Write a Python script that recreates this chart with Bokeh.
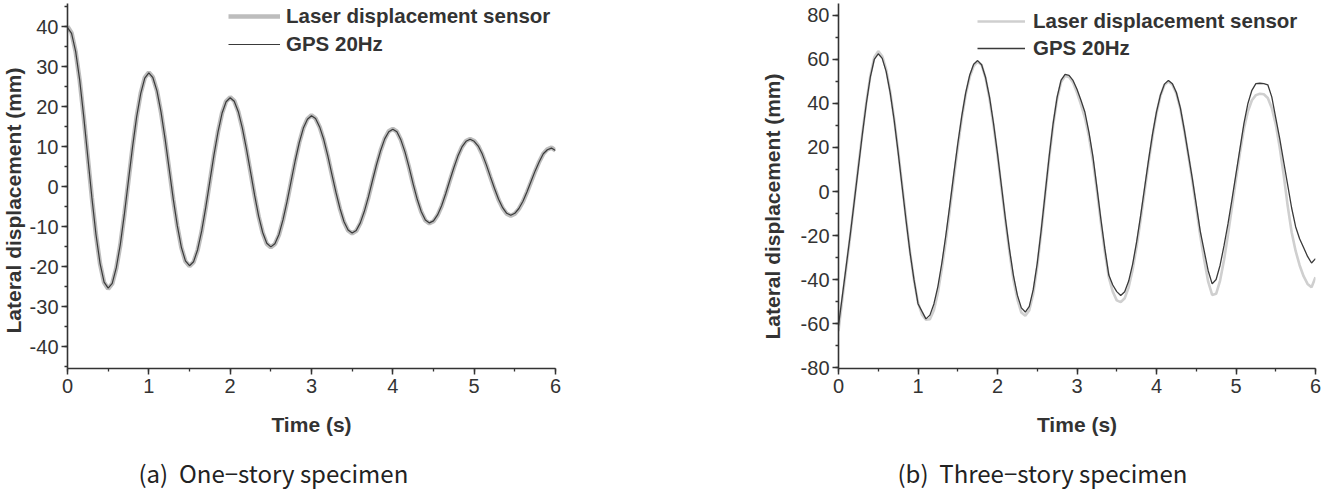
import math
from bokeh.plotting import figure
from bokeh.layouts import row, column
from bokeh.models import (Range1d, SingleIntervalTicker, Label, Legend, LegendItem,
                          PrintfTickFormatter)
from bokeh.embed import file_html
from bokeh.resources import INLINE

# ---------------- data ----------------
# 20 Hz sampling grid (every 0.05 s) from 0 to 6 s
time_s = [round(i * 0.05, 2) for i in range(121)]

# (a) One-story specimen
laser_a = [40.0, 38.4, 33.7, 26.5, 17.3, 7.2, -2.9, -12.1, -19.3, -24.0,
           -25.6, -24.3, -20.4, -14.5, -6.9, 1.5, 9.8, 17.4, 23.3, 27.2,
           28.5, 27.3, 23.9, 18.5, 11.8, 4.3, -3.2, -9.9, -15.3, -18.7,
           -19.9, -18.9, -15.9, -11.2, -5.3, 1.2, 7.7, 13.6, 18.3, 21.3,
           22.3, 21.4, 18.7, 14.6, 9.3, 3.6, -2.2, -7.5, -11.6, -14.3,
           -15.2, -14.4, -12.1, -8.4, -3.8, 1.3, 6.4, 11.0, 14.6, 16.9,
           17.8, 17.0, 14.9, 11.7, 7.6, 3.0, -1.5, -5.6, -8.9, -11.0,
           -11.7, -11.1, -9.2, -6.3, -2.7, 1.4, 5.4, 9.0, 11.9, 13.8,
           14.4, 13.7, 11.6, 8.5, 4.7, 0.5, -3.3, -6.4, -8.5, -9.2,
           -8.7, -7.2, -4.9, -1.9, 1.4, 4.6, 7.6, 9.9, 11.4, 11.9,
           11.4, 10.1, 8.0, 5.3, 2.3, -0.6, -3.3, -5.4, -6.8, -7.3,
           -6.8, -5.6, -3.8, -1.4, 1.2, 3.8, 6.2, 8.2, 9.3, 9.7,
           9.0]
gps_a = [39.7, 38.3, 33.8, 26.6, 17.4, 7.3, -2.8, -12.0, -19.2, -23.9,
         -25.4, -24.2, -20.3, -14.4, -6.8, 1.6, 9.9, 17.4, 23.2, 27.1,
         28.4, 27.2, 23.9, 18.6, 11.9, 4.4, -3.1, -9.8, -15.2, -18.6,
         -19.8, -18.8, -15.8, -11.1, -5.2, 1.3, 7.8, 13.6, 18.3, 21.2,
         22.2, 21.3, 18.7, 14.6, 9.4, 3.7, -2.1, -7.4, -11.5, -14.2,
         -15.1, -14.3, -12.0, -8.3, -3.7, 1.4, 6.5, 11.0, 14.6, 16.8,
         17.7, 17.0, 14.9, 11.8, 7.7, 3.1, -1.4, -5.5, -8.8, -10.9,
         -11.6, -11.0, -9.1, -6.2, -2.6, 1.5, 5.5, 9.0, 11.9, 13.7,
         14.3, 13.7, 11.6, 8.6, 4.8, 0.6, -3.2, -6.3, -8.4, -9.1,
         -8.6, -7.1, -4.8, -1.8, 1.5, 4.7, 7.6, 9.9, 11.3, 11.8,
         11.3, 10.1, 8.1, 5.4, 2.4, -0.5, -3.2, -5.3, -6.7, -7.2,
         -6.7, -5.5, -3.7, -1.3, 1.3, 3.9, 6.2, 8.2, 9.2, 9.6,
         9.0]

# (b) Three-story specimen
laser_b = [-63.5, -48.5, -34.0, -19.5, -4.0, 11.5, 26.5, 40.5, 52.5, 61.0,
           63.8, 61.5, 55.5, 45.5, 33.0, 18.5, 3.0, -12.5, -27.5, -40.5,
           -50.5, -56.0, -58.3, -58.0, -54.0, -46.0, -35.0, -22.5, -8.5, 6.0,
           20.0, 33.0, 44.0, 52.0, 57.0, 59.0, 57.5, 51.5, 42.0, 30.0,
           16.5, 1.5, -13.5, -27.5, -40.0, -49.0, -55.0, -56.5, -54.0, -46.5,
           -34.0, -18.5, -1.5, 15.0, 30.0, 42.0, 49.8, 52.5, 52.0, 49.5,
           45.0, 39.5, 33.5, 25.0, 14.0, 0.5, -14.0, -27.5, -39.0, -45.5,
           -49.5, -50.3, -48.5, -43.5, -35.5, -25.0, -13.0, 0.0, 13.0, 25.0,
           35.5, 43.5, 48.5, 50.0, 48.5, 44.5, 37.5, 27.5, 16.5, 5.0,
           -7.5, -20.0, -31.0, -41.0, -47.0, -46.5, -40.5, -31.0, -19.5, -7.0,
           5.5, 17.5, 28.5, 36.5, 41.5, 43.8, 44.4, 44.2, 42.5, 38.0,
           30.5, 20.0, 7.5, -6.5, -18.5, -27.0, -33.5, -38.5, -42.0, -43.5,
           -39.0]
gps_b = [-61.0, -47.0, -33.0, -19.0, -4.0, 11.0, 26.0, 40.0, 52.0, 60.0,
         62.6, 60.5, 54.5, 44.9, 32.5, 17.9, 2.4, -13.2, -27.8, -40.2,
         -51.0, -54.5, -57.9, -56.2, -51.1, -43.2, -32.5, -20.0, -6.3, 7.9,
         21.6, 34.1, 44.8, 52.8, 57.8, 59.5, 57.6, 51.8, 42.8, 30.9,
         17.2, 2.4, -12.5, -26.2, -38.1, -47.1, -52.9, -54.8, -52.2, -44.5,
         -32.6, -17.5, -0.8, 15.9, 31.0, 42.9, 50.6, 53.2, 52.8, 50.5,
         46.5, 41.5, 36.0, 27.0, 16.0, 2.0, -12.5, -26.0, -38.0, -42.5,
         -45.5, -47.3, -45.6, -40.7, -33.0, -22.9, -11.1, 1.6, 14.3, 26.1,
         36.2, 43.9, 48.8, 50.5, 49.0, 45.0, 38.0, 28.0, 17.0, 6.0,
         -6.0, -18.0, -27.0, -36.0, -42.0, -40.0, -33.5, -24.5, -14.5, -3.5,
         8.0, 19.5, 31.0, 40.0, 46.0, 49.0, 49.2, 49.0, 48.5, 43.0,
         33.5, 24.0, 13.5, 3.0, -7.5, -16.0, -21.5, -25.5, -29.5, -32.5,
         -30.5]

series_names = ["Laser displacement sensor", "GPS 20Hz"]
x_label = "Time (s)"
y_label = "Lateral displacement (mm)"
captions = ["(a)\u00a0 One\u2212story specimen", "(b)\u00a0 Three\u2212story specimen"]

FONT = "Liberation Sans"
CAP_FONT = "Noto Sans CJK KR"
TXT = "#333333"

MAIN_H = 445          # height of the chart row; captions strip below
TOP, BOTTOM = 3, 77   # shared frame borders (frames are aligned in the row)
FRAME_BOTTOM = MAIN_H - BOTTOM   # canvas y of the frames' bottom (368)


def bare(width, height, top=0, bottom=0):
    p = figure(width=width, height=height, x_range=Range1d(0, width),
               y_range=Range1d(0, height - top - bottom), output_backend="svg",
               toolbar_location=None, title=None, x_axis_type=None, y_axis_type=None,
               min_border_left=0, min_border_right=0, min_border_top=top,
               min_border_bottom=bottom)
    p.outline_line_color = None
    p.background_fill_color = "white"
    p.border_fill_color = "white"
    return p


def ylabel_fig(width, cx, cy_canvas):
    p = bare(width, MAIN_H, TOP, BOTTOM)
    p.add_layout(Label(x=cx, y=FRAME_BOTTOM - cy_canvas, text=y_label,
                       angle=math.pi / 2, text_align="center", text_baseline="middle",
                       text_font=FONT, text_font_size="21px", text_font_style="bold",
                       text_color=TXT))
    return p


def make_panel(width, bl, br, yr, yint, laser, gps, laser_style, gps_style,
               leg_loc, glyph_w, standoff, spacing):
    p = figure(width=width, height=MAIN_H, x_range=Range1d(0, 6), y_range=Range1d(*yr),
               output_backend="svg", toolbar_location=None, title=None,
               min_border_left=bl, min_border_right=br, min_border_top=TOP,
               min_border_bottom=BOTTOM)
    p.outline_line_color = None
    p.xgrid.visible = False
    p.ygrid.visible = False
    p.background_fill_color = "white"
    p.border_fill_color = "white"

    xa = p.xaxis[0]
    ya = p.yaxis[0]
    xa.ticker = SingleIntervalTicker(interval=1, num_minor_ticks=2)
    ya.ticker = SingleIntervalTicker(interval=yint, num_minor_ticks=2)
    for ax in (xa, ya):
        ax.formatter = PrintfTickFormatter(format="%d")
        ax.axis_line_color = TXT
        ax.axis_line_width = 1.6
        ax.major_tick_line_color = TXT
        ax.minor_tick_line_color = TXT
        ax.major_tick_line_width = 1.5
        ax.minor_tick_line_width = 1.3
        ax.major_tick_in = 0
        ax.major_tick_out = 6
        ax.minor_tick_in = 0
        ax.minor_tick_out = 3
        ax.major_label_text_font = FONT
        ax.major_label_text_font_size = "20px"
        ax.major_label_text_color = TXT
    xa.major_label_standoff = 4
    ya.major_label_standoff = 3
    xa.axis_label = x_label
    xa.axis_label_text_font = FONT
    xa.axis_label_text_font_size = "21px"
    xa.axis_label_text_font_style = "bold"
    xa.axis_label_text_color = TXT
    xa.axis_label_standoff = 17

    r_laser = p.line(time_s, laser, **laser_style)
    r_gps = p.line(time_s, gps, **gps_style)

    legend = Legend(items=[LegendItem(label=series_names[0], renderers=[r_laser]),
                           LegendItem(label=series_names[1], renderers=[r_gps])],
                    location=leg_loc, border_line_color=None, background_fill_alpha=0,
                    padding=0, margin=0, spacing=spacing, glyph_width=glyph_w,
                    glyph_height=24, label_height=24, label_standoff=standoff,
                    label_text_font=FONT, label_text_font_size="20.5px",
                    label_text_font_style="bold", label_text_color=TXT)
    p.add_layout(legend, "center")
    return p


# left chart: frame x 67..555 ; right chart: frame x 838..1315 ; frames y 3..368
yl_a = ylabel_fig(26, 13, 200)
pa = make_panel(729, 41, 200, (-45.5, 45.75), 10, laser_a, gps_a,
                dict(line_color="#bdbdbd", line_width=4.5),
                dict(line_color="#3a3a3a", line_width=1.2),
                (161, 312), 52, 6, 4)
yl_b = ylabel_fig(35, 17, 206)
pb = make_panel(543, 48, 18, (-80.45, 85.45), 20, laser_b, gps_b,
                dict(line_color="#cfcfcf", line_width=2.6),
                dict(line_color="#3a3a3a", line_width=1.3),
                (139, 308), 48, 8, 3)

cap_h = 495 - MAIN_H
cap = bare(1333, cap_h)
for lx, txt in zip([138, 897], captions):
    cap.add_layout(Label(x=lx, y=cap_h - 27, text=txt, text_align="left",
                         text_baseline="middle", text_font=CAP_FONT,
                         text_font_size="24px", text_color="#222222"))

layout = column(row(yl_a, pa, yl_b, pb, spacing=0), cap, spacing=0)
open("out.html", "w").write(file_html(layout, INLINE))
